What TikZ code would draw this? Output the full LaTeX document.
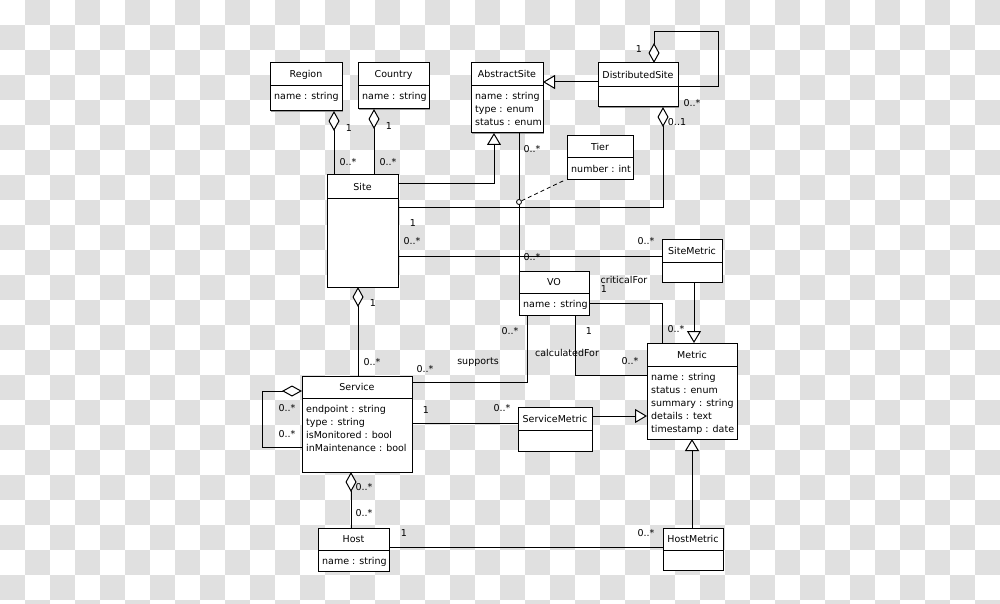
\documentclass[tikz,border=0pt]{standalone}
\usepackage{fontspec}
\setmainfont{DejaVu Sans}
\usetikzlibrary{arrows.meta,calc}
\definecolor{checkgray}{RGB}{224,224,224}
\definecolor{shadowgray}{RGB}{150,150,150}
\tikzset{
  txt/.style={font=\fontsize{9.5}{13}\selectfont, inner sep=0pt, text=black},
  classbox/.style={draw=black, line width=1pt, fill=white, inner sep=0pt, outer sep=0pt, rectangle},
  conn/.style={draw=black, line width=1pt},
  aggr/.style={conn, {Diamond[fill=white, length=20pt, width=11pt]}-},
  inh/.style={conn, -{Triangle[fill=white, length=12pt, width=14pt]}},
  dashline/.style={draw=black, line width=0.8pt, dash pattern=on 4pt off 3pt},
}
\newcommand\umlclass[7]{%
  \fill[shadowgray] ($(#2,#3)+(1.2,1.2)$) rectangle ($(#4,#5)+(1.2,1.2)$);
  \node[classbox, minimum width={(#4)-(#2)}, minimum height={(#5)-(#3)}] (#1) at ({(#2+#4)/2},{(#3+#5)/2}) {};
  \draw[line width=1pt] (#2,#6) -- (#4,#6);
  \node[txt, anchor=base] (#1-t) at ({(#2+#4)/2},{(#3+#6)/2+3.5}) {#7};
}
\newcommand\umlattrs[4]{%
  \foreach \a [count=\k] in {#4} {\node[txt, anchor=base west] (#1-a\k) at ({#2+4},{#3+14+13*(\k-1)}) {\a};}
}
\newcommand\lbl[4]{\node[txt, anchor=base] (#1) at (#2,{#3+3.5}) {#4};}
\begin{document}
\begin{tikzpicture}[x=1pt,y=-1pt]
\useasboundingbox (0,0) rectangle (1000,604);
\begin{scope}
\clip (0,0) rectangle (1000,604);
\fill[white] (0,0) rectangle (1000,604);
\foreach \i in {0,...,39} \foreach \j in {0,...,24} {
  \ifodd\numexpr\i+\j\relax \fill[checkgray] ({\i*25},{\j*25}) rectangle ++(25,25); \fi
}
\end{scope}

% classes
\umlclass{region}{270}{63}{342}{111}{86}{Region}
\umlattrs{region}{270}{86}{name : string}
\umlclass{country}{358}{63}{429}{109}{86}{Country}
\umlattrs{country}{358}{86}{name : string}
\umlclass{abstract}{471}{63}{543}{133}{86}{AbstractSite}
\umlattrs{abstract}{471}{86}{name : string, type : enum, status : enum}
\umlclass{distributed}{598}{63}{678}{107}{87}{DistributedSite}
\umlclass{tier}{567}{136}{633}{179}{158}{Tier}
\umlattrs{tier}{567}{158}{number : int}
\umlclass{site}{327}{175}{398}{287}{198}{Site}
\umlclass{sitemetric}{662}{239}{722}{282}{262}{SiteMetric}
\umlclass{vo}{519}{271}{589}{315}{293}{VO}
\umlattrs{vo}{519}{293}{name : string}
\umlclass{metric}{647}{343}{737}{439}{366}{Metric}
\umlattrs{metric}{647}{366}{name : string, status : enum, summary : string, details : text, timestamp : date}
\umlclass{service}{302}{376}{412}{472}{398}{Service}
\umlattrs{service}{302}{398}{endpoint : string, type : string, isMonitored : bool, inMaintenance : bool}
\umlclass{servicemetric}{518}{407}{592}{451}{430}{ServiceMetric}
\umlclass{host}{318}{528}{389}{571}{550}{Host}
\umlattrs{host}{318}{550}{name : string}
\umlclass{hostmetric}{663}{528}{723}{570}{550}{HostMetric}

% connectors
\draw[aggr] ($(region.south west)+(64,0)$) -- ($(site.north west)+(7,0)$);
\draw[aggr] ($(country.south west)+(16,0)$) -- ($(site.north west)+(47,0)$);
\draw[inh] ($(site.north east)+(0,8)$) -| ($(abstract.south west)+(23,0)$);
\draw[inh] ($(distributed.north west)+(0,19)$) -- ($(abstract.north east)+(0,19)$);
\draw[aggr] ($(distributed.north west)+(56,0)$) -- ++(0,-31) -| ($(distributed.north east)+(40,24)$) -- ($(distributed.north east)+(0,24)$);
\draw[aggr] ($(distributed.south west)+(65,0)$) |- ($(site.north east)+(0,32)$);
\draw[conn] ($(abstract.south west)+(48,0)$) -- (vo.north west);
\node[circle, draw=black, line width=0.8pt, fill=white, inner sep=0pt, minimum size=5pt] (assoc) at ($(abstract.south west)+(48,69)$) {};
\draw[dashline] (assoc) -- ($(tier.south west)+(-2,1)$);
\draw[conn] ($(site.north east)+(0,81)$) -- ($(sitemetric.north west)+(0,17)$);
\draw[conn] ($(vo.north east)+(0,32)$) -| ($(metric.north west)+(15,0)$);
\draw[inh] ($(sitemetric.south west)+(32,0)$) -- ($(metric.north west)+(47,0)$);
\draw[conn] ($(vo.south west)+(8,0)$) |- ($(service.north east)+(0,6)$);
\draw[conn] ($(vo.south west)+(56,0)$) |- ($(metric.north west)+(0,32)$);
\draw[aggr] ($(site.south west)+(31,0)$) -- ($(service.north west)+(56,0)$);
\draw[aggr] ($(service.north west)+(0,15)$) -- ++(-40,0) |- ($(service.north west)+(0,71)$);
\draw[conn] ($(service.north east)+(0,47)$) -- ($(servicemetric.north west)+(0,16)$);
\draw[inh] ($(servicemetric.north east)+(0,9)$) -- ($(metric.north west)+(0,73)$);
\draw[inh] ($(hostmetric.north west)+(29,0)$) -- ($(metric.south west)+(45,0)$);
\draw[aggr] ($(service.south west)+(49,0)$) -- ($(host.north west)+(33,0)$);
\draw[conn] ($(host.north east)+(0,19)$) -- ($(hostmetric.north west)+(0,19)$);

% labels
\lbl{l1}{349}{128}{1}
\lbl{l2}{348}{162}{0..*}
\lbl{l3}{389}{126}{1}
\lbl{l4}{388}{162}{0..*}
\lbl{l5}{532}{149}{0..*}
\lbl{l6}{639}{49}{1}
\lbl{l7}{692}{103}{0..*}
\lbl{l8}{677}{122}{0..1}
\lbl{l9}{413}{223}{1}
\lbl{l10}{412}{241}{0..*}
\lbl{l11}{532}{257}{0..*}
\lbl{l12}{646}{241}{0..*}
\lbl{l13}{624}{280}{criticalFor}
\lbl{l14}{604}{289}{1}
\lbl{l15}{676}{329}{0..*}
\lbl{l16}{373}{303}{1}
\lbl{l17}{510}{331}{0..*}
\lbl{l18}{589}{331}{1}
\lbl{l19}{567}{353}{calculatedFor}
\lbl{l20}{630}{361}{0..*}
\lbl{l21}{502}{408}{0..*}
\lbl{l22}{372}{362}{0..*}
\lbl{l23}{425}{369}{0..*}
\lbl{l24}{478}{361}{supports}
\lbl{l25}{287}{408}{0..*}
\lbl{l26}{287}{434}{0..*}
\lbl{l27}{426}{410}{1}
\lbl{l28}{364}{487}{0..*}
\lbl{l29}{364}{513}{0..*}
\lbl{l30}{404}{533}{1}
\lbl{l31}{646}{533}{0..*}
\end{tikzpicture}
\end{document}
